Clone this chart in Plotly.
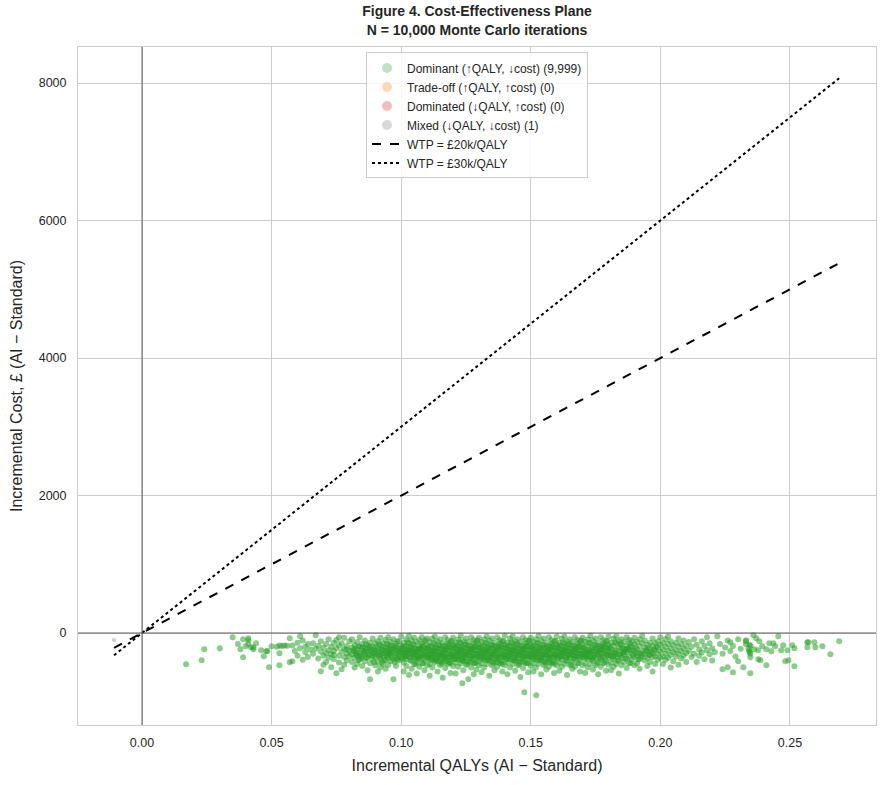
import plotly.graph_objects as go

# ---------------- data ----------------
# Dominant iterations (incremental QALY, incremental cost in GBP)
dominant_points = [
    # left tail
    (0.017,-456),(0.023,-397),(0.024,-237),(0.030,-223),(0.035,-63),(0.037,-160),(0.038,-237),(0.039,-92),
    (0.039,-353),(0.040,-194),(0.041,-77),(0.041,-106),(0.041,-160),(0.042,-208),(0.043,-208),(0.043,-237),
    (0.044,-150),(0.046,-252),(0.047,-339),(0.048,-266),(0.0484,-262),(0.049,-499),(0.050,-194),(0.052,-200),
    (0.053,-180),(0.054,-190),(0.055,-180),(0.056,-185),(0.053,-295),(0.053,-470),(0.057,-426),(0.057,-77),
    (0.058,-180),(0.059,-260),(0.060,-140),(0.060,-330),(0.061,-220),(0.062,-390),(0.062,-110),(0.063,-280),
    (0.063,-200),(0.064,-350),(0.064,-160),(0.065,-240),(0.061,-48),(0.058,-412),
    (0.066,-300),(0.066,-150),(0.067,-33),(0.067,-230),(0.068,-370),(0.068,-190),(0.069,-557),(0.069,-270),
    (0.069,-120),(0.070,-330),(0.070,-210),(0.071,-420),(0.071,-160),(0.071,-290),(0.072,-90),(0.072,-250),
    (0.072,-360),(0.070,-460),
    (0.073,-499),(0.073,-200),(0.073,-310),(0.074,-140),(0.074,-260),(0.074,-380),(0.075,-586),(0.075,-220),
    (0.075,-100),(0.076,-330),(0.076,-180),(0.076,-430),(0.077,-528),(0.077,-270),(0.077,-150),(0.078,-350),
    (0.078,-230),(0.078,-70),(0.079,-300),(0.079,-400),(0.079,-190),(0.080,-260),(0.080,-120),(0.080,-340),
    (0.076,-60),(0.078,-460),(0.074,-320),(0.079,-240),
    # 0.08 - 0.09
    (0.081,-210),(0.081,-310),(0.081,-420),(0.081,-90),(0.082,-170),(0.082,-270),(0.082,-360),(0.082,-500),
    (0.083,-130),(0.083,-240),(0.083,-330),(0.083,-450),(0.084,-60),(0.084,-200),(0.084,-290),(0.084,-390),
    (0.085,-160),(0.085,-250),(0.085,-340),(0.085,-480),(0.086,-110),(0.086,-220),(0.086,-310),(0.086,-410),
    (0.087,-180),(0.087,-270),(0.087,-360),(0.087,-540),(0.088,-673),(0.088,-140),(0.088,-240),(0.088,-320),
    (0.088,-440),(0.089,-80),(0.089,-200),(0.089,-290),(0.089,-380),(0.090,-150),(0.090,-260),(0.090,-350),
    (0.090,-470),(0.082,-230),(0.084,-330),(0.086,-270),(0.088,-200),(0.090,-300),(0.083,-290),(0.085,-210),
    (0.087,-230),(0.089,-330),
    (0.0815,-255),(0.0825,-315),(0.0835,-195),(0.0845,-365),(0.0855,-285),(0.0865,-165),(0.0875,-325),
    (0.0885,-265),(0.0895,-235),(0.0835,-395),(0.0865,-355),(0.0895,-425),
    # 0.09 - 0.10
    (0.091,-120),(0.091,-230),(0.091,-320),(0.091,-420),(0.091,-560),(0.092,-499),(0.092,-180),(0.092,-280),
    (0.092,-370),(0.092,-70),(0.093,-150),(0.093,-250),(0.093,-340),(0.093,-450),(0.094,-100),(0.094,-210),
    (0.094,-300),(0.094,-390),(0.094,-520),(0.095,-170),(0.095,-270),(0.095,-360),(0.095,-60),(0.095,-460),
    (0.096,-130),(0.096,-230),(0.096,-320),(0.096,-410),(0.097,-673),(0.097,-190),(0.097,-290),(0.097,-380),
    (0.097,-90),(0.098,-160),(0.098,-250),(0.098,-340),(0.098,-480),(0.099,-120),(0.099,-220),(0.099,-310),
    (0.099,-400),(0.100,-180),(0.100,-280),(0.100,-360),(0.100,-50),(0.093,-200),(0.095,-220),(0.097,-240),
    (0.099,-260),(0.092,-320),(0.094,-260),(0.096,-280),(0.098,-300),(0.100,-230),(0.091,-270),(0.093,-300),
    (0.096,-180),(0.098,-200),(0.095,-320),(0.099,-350),
    (0.0905,-205),(0.0915,-345),(0.0925,-245),(0.0935,-395),(0.0945,-155),(0.0955,-295),(0.0965,-355),
    (0.0975,-215),(0.0985,-385),(0.0995,-275),(0.0915,-165),(0.0945,-335),(0.0975,-425),(0.0985,-125),
    (0.0955,-245),(0.0925,-425),
    # 0.10 - 0.11
    (0.101,-140),(0.101,-240),(0.101,-330),(0.101,-430),(0.101,-560),(0.102,-90),(0.102,-190),(0.102,-290),
    (0.102,-380),(0.102,-480),(0.103,-150),(0.103,-250),(0.103,-340),(0.103,-40),(0.103,-610),(0.104,-110),
    (0.104,-210),(0.104,-300),(0.104,-400),(0.104,-520),(0.105,-170),(0.105,-270),(0.105,-360),(0.105,-70),
    (0.105,-450),(0.106,-130),(0.106,-230),(0.106,-320),(0.106,-420),(0.106,-590),(0.107,-190),(0.107,-280),
    (0.107,-370),(0.107,-100),(0.107,-490),(0.108,-150),(0.108,-250),(0.108,-340),(0.108,-60),(0.108,-440),
    (0.109,-120),(0.109,-220),(0.109,-310),(0.109,-400),(0.109,-540),(0.110,-180),(0.110,-270),(0.110,-360),
    (0.110,-80),(0.110,-470),(0.101,-290),(0.102,-240),(0.103,-300),(0.104,-250),(0.105,-310),(0.106,-270),
    (0.107,-230),(0.108,-300),(0.109,-260),(0.110,-320),(0.101,-200),(0.103,-200),(0.105,-220),(0.107,-330),
    (0.109,-350),(0.102,-340),(0.104,-350),(0.106,-370),(0.108,-200),(0.110,-230),
    (0.1005,-205),(0.1015,-345),(0.1025,-265),(0.1035,-405),(0.1045,-165),(0.1055,-295),(0.1065,-375),
    (0.1075,-225),(0.1085,-435),(0.1095,-315),(0.1005,-375),(0.1025,-135),(0.1045,-325),(0.1065,-245),
    (0.1085,-185),(0.1015,-285),(0.1035,-235),(0.1055,-455),(0.1075,-345),(0.1095,-105),
    # 0.11 - 0.12
    (0.111,-130),(0.111,-250),(0.111,-340),(0.111,-450),(0.111,-620),(0.112,-80),(0.112,-200),(0.112,-300),
    (0.112,-390),(0.112,-500),(0.113,-160),(0.113,-260),(0.113,-350),(0.113,-50),(0.113,-430),(0.114,-120),
    (0.114,-220),(0.114,-310),(0.114,-410),(0.114,-560),(0.115,-180),(0.115,-280),(0.115,-370),(0.115,-90),
    (0.115,-470),(0.116,-140),(0.116,-240),(0.116,-330),(0.116,-420),(0.116,-650),(0.117,-190),(0.117,-290),
    (0.117,-380),(0.117,-60),(0.117,-510),(0.118,-150),(0.118,-250),(0.118,-350),(0.118,-100),(0.118,-450),
    (0.119,-210),(0.119,-300),(0.119,-400),(0.119,-130),(0.119,-580),(0.120,-170),(0.120,-270),(0.120,-360),
    (0.120,-70),(0.120,-480),(0.111,-300),(0.112,-250),(0.113,-310),(0.114,-270),(0.115,-230),(0.116,-290),
    (0.117,-240),(0.118,-300),(0.119,-260),(0.120,-320),(0.111,-190),(0.113,-210),(0.115,-330),(0.117,-340),
    (0.119,-350),(0.112,-350),(0.114,-360),(0.116,-190),(0.118,-200),(0.120,-220),(0.111,-390),(0.113,-400),
    (0.115,-410),(0.117,-420),(0.119,-440),
    (0.1105,-215),(0.1115,-355),(0.1125,-275),(0.1135,-385),(0.1145,-175),(0.1155,-305),(0.1165,-365),
    (0.1175,-215),(0.1185,-425),(0.1195,-325),(0.1105,-365),(0.1125,-145),(0.1145,-335),(0.1165,-255),
    (0.1185,-175),(0.1115,-275),(0.1135,-225),(0.1155,-445),(0.1175,-355),(0.1195,-115),
    # 0.12 - 0.13
    (0.121,-140),(0.121,-230),(0.121,-330),(0.121,-430),(0.121,-590),(0.122,-90),(0.122,-190),(0.122,-290),
    (0.122,-380),(0.122,-490),(0.123,-150),(0.123,-250),(0.123,-340),(0.123,-40),(0.123,-440),(0.1236,-732),
    (0.124,-120),(0.124,-210),(0.124,-310),(0.124,-400),(0.124,-540),(0.125,-170),(0.125,-270),(0.125,-360),
    (0.125,-80),(0.125,-460),(0.1259,-673),(0.126,-130),(0.126,-230),(0.126,-320),(0.126,-420),(0.127,-190),
    (0.127,-280),(0.127,-370),(0.127,-60),(0.127,-500),(0.128,-150),(0.128,-250),(0.128,-340),(0.128,-100),
    (0.128,-440),(0.128,-600),(0.129,-200),(0.129,-300),(0.129,-390),(0.129,-120),(0.129,-530),(0.130,-160),
    (0.130,-260),(0.130,-350),(0.130,-70),(0.130,-470),(0.121,-280),(0.122,-240),(0.123,-300),(0.124,-260),
    (0.125,-220),(0.126,-280),(0.127,-240),(0.128,-300),(0.129,-250),(0.130,-310),(0.121,-180),(0.123,-200),
    (0.125,-320),(0.127,-330),(0.129,-350),(0.122,-340),(0.124,-360),(0.126,-180),(0.128,-200),(0.130,-210),
    (0.121,-380),(0.123,-390),(0.125,-410),(0.127,-420),(0.129,-430),
    (0.1205,-205),(0.1215,-345),(0.1225,-265),(0.1235,-405),(0.1245,-165),(0.1255,-295),(0.1265,-375),
    (0.1275,-225),(0.1285,-435),(0.1295,-315),(0.1205,-375),(0.1225,-135),(0.1245,-325),(0.1265,-245),
    (0.1285,-185),(0.1215,-285),(0.1235,-235),(0.1255,-455),(0.1275,-345),(0.1295,-105),
    # 0.13 - 0.14
    (0.131,-130),(0.131,-240),(0.131,-330),(0.131,-440),(0.131,-570),(0.132,-90),(0.132,-190),(0.132,-290),
    (0.132,-380),(0.132,-500),(0.133,-150),(0.133,-260),(0.133,-350),(0.133,-50),(0.133,-450),(0.134,-110),
    (0.134,-210),(0.134,-310),(0.134,-400),(0.134,-620),(0.135,-170),(0.135,-270),(0.135,-360),(0.135,-80),
    (0.135,-470),(0.136,-140),(0.136,-230),(0.136,-320),(0.136,-420),(0.136,-540),(0.137,-190),(0.137,-290),
    (0.137,-380),(0.137,-60),(0.137,-490),(0.138,-150),(0.138,-250),(0.138,-340),(0.138,-100),(0.138,-440),
    (0.139,-210),(0.139,-300),(0.139,-400),(0.139,-120),(0.139,-560),(0.140,-170),(0.140,-270),(0.140,-360),
    (0.140,-40),(0.140,-470),(0.131,-290),(0.132,-240),(0.133,-300),(0.134,-260),(0.135,-220),(0.136,-280),
    (0.137,-240),(0.138,-300),(0.139,-260),(0.140,-320),(0.131,-190),(0.133,-210),(0.135,-320),(0.137,-340),
    (0.139,-350),(0.132,-340),(0.134,-360),(0.136,-190),(0.138,-200),(0.140,-220),(0.131,-390),(0.133,-400),
    (0.135,-410),(0.137,-420),(0.139,-450),
    (0.1305,-215),(0.1315,-355),(0.1325,-275),(0.1335,-385),(0.1345,-175),(0.1355,-305),(0.1365,-365),
    (0.1375,-215),(0.1385,-425),(0.1395,-325),(0.1305,-365),(0.1325,-145),(0.1345,-335),(0.1365,-255),
    (0.1385,-175),(0.1315,-275),(0.1335,-225),(0.1355,-445),(0.1375,-355),(0.1395,-115),
    # 0.14 - 0.15
    (0.141,-140),(0.141,-230),(0.141,-330),(0.141,-430),(0.141,-600),(0.142,-80),(0.142,-190),(0.142,-290),
    (0.142,-380),(0.142,-500),(0.143,-150),(0.143,-250),(0.143,-340),(0.143,-50),(0.143,-450),(0.144,-120),
    (0.144,-210),(0.144,-310),(0.144,-400),(0.144,-550),(0.145,-170),(0.145,-270),(0.145,-360),(0.145,-90),
    (0.145,-470),(0.146,-130),(0.146,-230),(0.146,-320),(0.146,-420),(0.146,-640),(0.147,-190),(0.147,-280),
    (0.147,-370),(0.147,-60),(0.147,-510),(0.1475,-863),(0.148,-150),(0.148,-250),(0.148,-340),(0.148,-100),
    (0.148,-440),(0.149,-200),(0.149,-300),(0.149,-390),(0.149,-120),(0.149,-570),(0.150,-160),(0.150,-260),
    (0.150,-350),(0.150,-70),(0.150,-480),(0.141,-280),(0.142,-240),(0.143,-300),(0.144,-260),(0.145,-220),
    (0.146,-280),(0.147,-240),(0.148,-300),(0.149,-250),(0.150,-310),(0.141,-180),(0.143,-200),(0.145,-320),
    (0.147,-330),(0.149,-350),(0.142,-340),(0.144,-360),(0.146,-180),(0.148,-200),(0.150,-210),(0.141,-380),
    (0.143,-390),(0.145,-410),(0.147,-420),(0.149,-440),
    (0.1405,-205),(0.1415,-345),(0.1425,-265),(0.1435,-405),(0.1445,-165),(0.1455,-295),(0.1465,-375),
    (0.1475,-225),(0.1485,-435),(0.1495,-315),(0.1405,-375),(0.1425,-135),(0.1445,-325),(0.1465,-245),
    (0.1485,-185),(0.1415,-285),(0.1435,-235),(0.1455,-455),(0.1475,-345),(0.1495,-105),
    # 0.15 - 0.16
    (0.151,-130),(0.151,-240),(0.151,-330),(0.151,-440),(0.151,-560),(0.1521,-906),(0.152,-90),(0.152,-190),
    (0.152,-290),(0.152,-380),(0.152,-500),(0.153,-150),(0.153,-260),(0.153,-350),(0.153,-40),(0.153,-450),
    (0.154,-110),(0.154,-210),(0.154,-310),(0.154,-400),(0.154,-600),(0.155,-170),(0.155,-270),(0.155,-360),
    (0.155,-80),(0.155,-470),(0.156,-140),(0.156,-230),(0.156,-320),(0.156,-420),(0.156,-530),(0.157,-190),
    (0.157,-290),(0.157,-380),(0.157,-60),(0.157,-490),(0.158,-150),(0.158,-250),(0.158,-340),(0.158,-100),
    (0.158,-440),(0.159,-210),(0.159,-300),(0.159,-400),(0.159,-120),(0.159,-580),(0.160,-170),(0.160,-270),
    (0.160,-360),(0.160,-50),(0.160,-470),(0.151,-290),(0.152,-240),(0.153,-300),(0.154,-260),(0.155,-220),
    (0.156,-280),(0.157,-240),(0.158,-300),(0.159,-260),(0.160,-320),(0.151,-190),(0.153,-210),(0.155,-320),
    (0.157,-340),(0.159,-350),(0.152,-340),(0.154,-360),(0.156,-190),(0.158,-200),(0.160,-220),(0.151,-390),
    (0.153,-400),(0.155,-410),(0.157,-420),(0.159,-450),
    (0.1505,-215),(0.1515,-355),(0.1525,-275),(0.1535,-385),(0.1545,-175),(0.1555,-305),(0.1565,-365),
    (0.1575,-215),(0.1585,-425),(0.1595,-325),(0.1505,-365),(0.1525,-145),(0.1545,-335),(0.1565,-255),
    (0.1585,-175),(0.1515,-275),(0.1535,-225),(0.1555,-445),(0.1575,-355),(0.1595,-115),
    # 0.16 - 0.17
    (0.161,-140),(0.161,-230),(0.161,-330),(0.161,-430),(0.161,-550),(0.162,-80),(0.162,-190),(0.162,-290),
    (0.162,-380),(0.162,-490),(0.163,-150),(0.163,-250),(0.163,-340),(0.163,-50),(0.163,-450),(0.164,-120),
    (0.164,-210),(0.164,-310),(0.164,-400),(0.164,-610),(0.165,-170),(0.165,-270),(0.165,-360),(0.165,-90),
    (0.165,-470),(0.166,-130),(0.166,-230),(0.166,-320),(0.166,-420),(0.166,-520),(0.167,-190),(0.167,-280),
    (0.167,-370),(0.167,-60),(0.167,-490),(0.168,-150),(0.168,-250),(0.168,-340),(0.168,-100),(0.168,-440),
    (0.169,-200),(0.169,-300),(0.169,-390),(0.169,-120),(0.169,-560),(0.170,-160),(0.170,-260),(0.170,-350),
    (0.170,-70),(0.170,-470),(0.161,-280),(0.162,-240),(0.163,-300),(0.164,-260),(0.165,-220),(0.166,-280),
    (0.167,-240),(0.168,-300),(0.169,-250),(0.170,-310),(0.161,-180),(0.163,-200),(0.165,-320),(0.167,-330),
    (0.169,-350),(0.162,-340),(0.164,-360),(0.166,-180),(0.168,-200),(0.170,-210),
    (0.1605,-205),(0.1615,-345),(0.1625,-265),(0.1635,-405),(0.1645,-165),(0.1655,-295),(0.1665,-375),
    (0.1675,-225),(0.1685,-435),(0.1695,-315),(0.1605,-375),(0.1625,-135),(0.1645,-325),(0.1665,-245),
    (0.1685,-185),(0.1615,-285),(0.1635,-235),(0.1655,-455),(0.1675,-345),(0.1695,-105),
    # 0.17 - 0.18
    (0.171,-130),(0.171,-240),(0.171,-330),(0.171,-440),(0.171,-580),(0.172,-90),(0.172,-190),(0.172,-290),
    (0.172,-380),(0.172,-500),(0.173,-150),(0.173,-260),(0.173,-350),(0.173,-40),(0.173,-450),(0.174,-110),
    (0.174,-210),(0.174,-310),(0.174,-400),(0.174,-530),(0.175,-170),(0.175,-270),(0.175,-360),(0.175,-80),
    (0.175,-470),(0.176,-140),(0.176,-230),(0.176,-320),(0.176,-420),(0.176,-600),(0.177,-190),(0.177,-290),
    (0.177,-380),(0.177,-60),(0.177,-490),(0.178,-150),(0.178,-250),(0.178,-340),(0.178,-100),(0.178,-440),
    (0.179,-210),(0.179,-300),(0.179,-400),(0.179,-120),(0.179,-550),(0.180,-170),(0.180,-270),(0.180,-360),
    (0.180,-50),(0.180,-460),(0.171,-290),(0.172,-240),(0.173,-300),(0.174,-260),(0.175,-220),(0.176,-280),
    (0.177,-240),(0.178,-300),(0.179,-260),(0.180,-320),(0.172,-340),(0.174,-360),(0.176,-190),(0.178,-200),
    (0.180,-220),
    (0.1705,-215),(0.1715,-355),(0.1725,-275),(0.1735,-385),(0.1745,-175),(0.1755,-305),(0.1765,-365),
    (0.1775,-215),(0.1785,-425),(0.1795,-325),(0.1705,-365),(0.1725,-145),(0.1745,-335),(0.1765,-255),
    (0.1785,-175),(0.1715,-275),(0.1735,-225),(0.1755,-445),(0.1775,-355),(0.1795,-115),
    # 0.18 - 0.19
    (0.181,-140),(0.181,-230),(0.181,-330),(0.181,-430),(0.181,-540),(0.182,-80),(0.182,-190),(0.182,-290),
    (0.182,-380),(0.182,-490),(0.183,-150),(0.183,-250),(0.183,-340),(0.183,-50),(0.183,-450),(0.184,-120),
    (0.184,-210),(0.184,-310),(0.184,-400),(0.184,-590),(0.185,-170),(0.185,-270),(0.185,-360),(0.185,-90),
    (0.185,-470),(0.186,-130),(0.186,-230),(0.186,-320),(0.186,-420),(0.187,-190),(0.187,-280),(0.187,-370),
    (0.187,-60),(0.187,-510),(0.188,-150),(0.188,-250),(0.188,-340),(0.188,-100),(0.188,-440),(0.189,-200),
    (0.189,-300),(0.189,-390),(0.189,-120),(0.190,-160),(0.190,-260),(0.190,-350),(0.190,-70),(0.190,-470),
    (0.181,-280),(0.183,-300),(0.185,-220),(0.187,-240),(0.189,-250),(0.182,-340),(0.186,-280),
    (0.1805,-205),(0.1815,-345),(0.1825,-265),(0.1835,-405),(0.1845,-165),(0.1855,-295),(0.1865,-375),
    (0.1875,-225),(0.1885,-435),(0.1895,-315),(0.1825,-135),(0.1845,-325),(0.1865,-245),(0.1885,-185),
    # 0.19 - 0.20
    (0.191,-130),(0.191,-240),(0.191,-330),(0.191,-440),(0.192,-90),(0.192,-190),(0.192,-290),(0.192,-380),
    (0.192,-520),(0.193,-150),(0.193,-260),(0.193,-350),(0.193,-40),(0.194,-110),(0.194,-210),(0.194,-310),
    (0.194,-400),(0.195,-170),(0.195,-270),(0.195,-360),(0.195,-480),(0.196,-140),(0.196,-230),(0.196,-320),
    (0.196,-420),(0.197,-190),(0.197,-290),(0.197,-80),(0.197,-560),(0.198,-150),(0.198,-250),(0.198,-340),
    (0.198,-450),(0.199,-210),(0.199,-300),(0.199,-390),(0.199,-120),(0.200,-170),(0.200,-270),(0.200,-360),
    (0.200,-60),(0.191,-290),(0.193,-300),(0.195,-220),(0.197,-350),
    (0.1905,-215),(0.1925,-335),(0.1945,-255),(0.1965,-275),(0.1985,-205),(0.1915,-385),(0.1955,-315),
    (0.1975,-245),
    # 0.20 - 0.21
    (0.201,-140),(0.201,-240),(0.201,-340),(0.201,-450),(0.202,-90),(0.202,-200),(0.202,-300),(0.202,-390),
    (0.203,-160),(0.203,-260),(0.203,-360),(0.203,-50),(0.204,-120),(0.204,-220),(0.204,-320),(0.204,-500),
    (0.205,-180),(0.205,-280),(0.205,-410),(0.206,-140),(0.206,-250),(0.206,-340),(0.207,-80),(0.207,-200),
    (0.207,-300),(0.207,-460),(0.208,-160),(0.208,-260),(0.208,-370),(0.209,-110),(0.209,-230),(0.209,-330),
    (0.210,-190),(0.210,-290),(0.210,-420),
    # 0.21 - 0.233
    (0.211,-130),(0.211,-260),(0.212,-350),(0.212,-200),(0.213,-90),(0.213,-300),(0.214,-170),(0.214,-420),
    (0.215,-240),(0.215,-330),(0.216,-120),(0.216,-280),(0.217,-190),(0.217,-380),(0.218,-60),(0.218,-250),
    (0.219,-310),(0.219,-150),(0.220,-220),(0.220,-400),(0.221,-280),(0.222,-48),
    (0.223,-160),(0.224,-528),(0.224,-300),(0.225,-210),(0.226,-499),(0.226,-110),(0.227,-135),(0.227,-260),
    (0.228,-572),(0.228,-190),(0.229,-340),(0.230,-92),(0.230,-412),(0.231,-230),(0.232,-499),(0.233,-121),
    (0.234,-223),(0.233,-160),
    # right tail
    (0.2359,-33),(0.2455,-48),(0.2331,-106),(0.2370,-77),(0.2382,-121),(0.2344,-175),(0.2348,-185),
    (0.2342,-262),(0.2345,-280),(0.2347,-300),(0.2347,-353),(0.2362,-237),(0.2377,-252),(0.2393,-194),
    (0.2409,-237),(0.2420,-150),(0.2428,-266),(0.2436,-150),(0.2443,-194),(0.2466,-252),(0.2474,-179),
    (0.2490,-252),(0.2509,-179),(0.2517,-223),(0.2482,-412),(0.2494,-397),(0.2517,-485),(0.2409,-470),
    (0.2378,-383),(0.2386,-395),(0.2347,-586),(0.2567,-135),(0.2571,-135),(0.2567,-208),(0.2594,-135),
    (0.2598,-208),(0.2625,-194),(0.2656,-310),(0.2690,-121),
]
mixed_qaly = [-0.0108]
mixed_cost = [-102]

wtp_thresholds = [20000, 30000]
wtp_labels = ["WTP = £20k/QALY", "WTP = £30k/QALY"]
wtp_dashes = ["dash", "dot"]

category_labels = [
    "Dominant (↑QALY, ↓cost) (9,999)",
    "Trade-off (↑QALY, ↑cost) (0)",
    "Dominated (↓QALY, ↑cost) (0)",
    "Mixed (↓QALY, ↓cost) (1)",
]
category_colors = ["#2ca02c", "#ff7f0e", "#d62728", "#7f7f7f"]

x_ticks = [0.00, 0.05, 0.10, 0.15, 0.20, 0.25]
y_ticks = [0, 2000, 4000, 6000, 8000]

dominant_qaly = [p[0] for p in dominant_points]
dominant_cost = [p[1] for p in dominant_points]

# ---------------- figure ----------------
FONT = "Liberation Sans, Arial, sans-serif"
fig = go.Figure()

fig.add_trace(go.Scatter(
    x=dominant_qaly, y=dominant_cost, mode="markers", showlegend=False,
    marker=dict(color=category_colors[0], size=6, opacity=0.55, line=dict(width=0)),
    hoverinfo="skip"))
fig.add_trace(go.Scatter(
    x=mixed_qaly, y=mixed_cost, mode="markers", showlegend=False,
    marker=dict(color=category_colors[3], size=4.5, opacity=0.35, line=dict(width=0)),
    hoverinfo="skip"))

# legend proxies
for lab, col in zip(category_labels, category_colors):
    fig.add_trace(go.Scatter(
        x=[None], y=[None], mode="markers", name=lab,
        marker=dict(color=col, size=10, opacity=0.3)))

all_x = dominant_qaly + mixed_qaly
xmin, xmax = min(all_x), max(all_x)
for thr, lab, dsh in zip(wtp_thresholds, wtp_labels, wtp_dashes):
    fig.add_trace(go.Scatter(
        x=[xmin, xmax], y=[thr * xmin, thr * xmax], mode="lines", name=lab,
        line=dict(color="black", width=2, dash=dsh)))

fig.add_hline(y=0, line=dict(color="#4d4d4d", width=0.9), layer="above")
fig.add_vline(x=0, line=dict(color="#4d4d4d", width=0.9), layer="above")

fig.update_layout(
    width=885, height=785,
    margin=dict(l=78, r=9, t=47, b=60),
    paper_bgcolor="white", plot_bgcolor="white",
    font=dict(family=FONT, size=12, color="#262626"),
    title=dict(
        text="<b>Figure 4. Cost-Effectiveness Plane<br>N = 10,000 Monte Carlo iterations</b>",
        x=0.5, xref="paper", xanchor="center", y=0.979, yanchor="top",
        font=dict(size=14, color="#262626")),
    legend=dict(
        x=0.5, xanchor="center", y=0.992, yanchor="top",
        bgcolor="rgba(255,255,255,0.85)", bordercolor="#cccccc", borderwidth=1,
        font=dict(size=12, color="#262626"), itemwidth=30, tracegroupgap=0),
    xaxis=dict(
        range=[-0.0247, 0.2832], tickvals=x_ticks, tickformat=".2f",
        showgrid=True, gridcolor="#cccccc", gridwidth=1, zeroline=False,
        showline=True, linecolor="#cccccc", mirror=True,
        ticks="outside", ticklen=6, tickcolor="rgba(0,0,0,0)",
        tickfont=dict(size=12.5),
        title=dict(text="Incremental QALYs (AI − Standard)", font=dict(size=16), standoff=10)),
    yaxis=dict(
        range=[-1338, 8524], tickvals=y_ticks, tickformat="d",
        showgrid=True, gridcolor="#cccccc", gridwidth=1, zeroline=False,
        showline=True, linecolor="#cccccc", mirror=True,
        ticks="outside", ticklen=8, tickcolor="rgba(0,0,0,0)",
        tickfont=dict(size=12.5),
        title=dict(text="Incremental Cost, £ (AI − Standard)", font=dict(size=16), standoff=12)),
)

fig.write_html("out.html")
